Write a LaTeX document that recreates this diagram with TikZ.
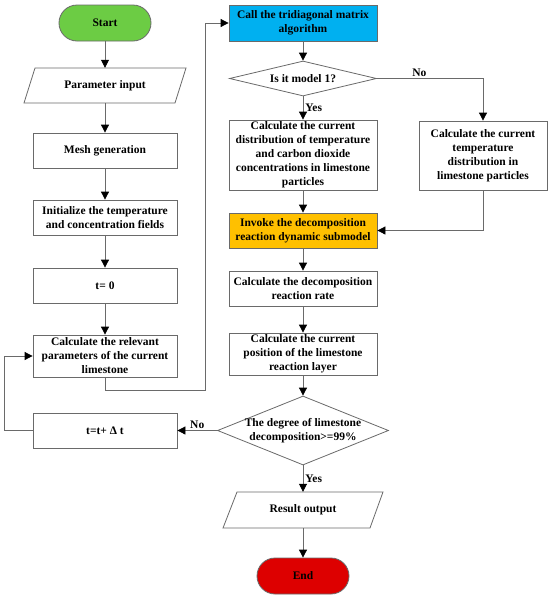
\documentclass[tikz,border=0pt]{standalone}
\usepackage{fontspec}
\setmainfont{Liberation Serif}
\usetikzlibrary{arrows.meta,shapes.geometric}
\definecolor{lc}{HTML}{6A6A6A}
\definecolor{startgreen}{HTML}{6CCC44}
\definecolor{endred}{HTML}{DD0000}
\definecolor{triblue}{HTML}{00B0F0}
\definecolor{invokeor}{HTML}{FFC000}
\begin{document}
\begin{tikzpicture}[x=1pt,y=-1pt,
 base/.style={font=\bfseries\fontsize{11.5}{14}\selectfont, align=center, inner sep=0pt, text=black},
 box/.style={base, draw=lc, line width=0.8pt, fill=white},
 term/.style={base, draw=lc, line width=0.8pt, rounded corners=18pt, minimum width=92pt, minimum height=36pt},
 dmd/.style={diamond, draw=lc, line width=0.8pt, inner sep=0pt, fill=white},
 ln/.style={draw=lc, line width=0.8pt},
 arr/.style={draw=lc, line width=0.8pt, -{Triangle[length=8pt,width=8pt,color=black]}},
 lbl/.style={font=\bfseries\fontsize{11.5}{14}\selectfont, inner sep=2pt, text=black}
]
\useasboundingbox[fill=white] (0,0) rectangle (550,598);

% left column
\node[term, fill=startgreen] (start) at (105,23) {Start};
\draw[ln] (35,68) -- (186,68) -- (175,103) -- (24,103) -- cycle;
\node[base, minimum width=140pt, minimum height=35pt] (param) at (105,85.5) {Parameter input};
\node[box, minimum width=144pt, minimum height=35pt] (mesh) at (105,150.5) {Mesh generation};
\node[box, minimum width=144pt, minimum height=35pt] (init) at (105,217.5) {Initialize the temperature\\and concentration fields};
\node[box, minimum width=144pt, minimum height=35pt] (t0) at (105,285.5) {t= 0};
\node[box, minimum width=144pt, minimum height=42pt] (calcrel) at (105,356) {Calculate the relevant\\parameters of the current\\limestone};
\node[box, minimum width=144pt, minimum height=35pt] (tinc) at (105,430.5) {t=t+ Δ t};

% right column
\node[box, fill=triblue, minimum width=148pt, minimum height=36pt] (tri) at (303,23) {Call the tridiagonal matrix\\algorithm};
\node[dmd, minimum width=147pt, minimum height=35pt] (dia1) at (303,78.5) {};
\node[base] at (dia1) {Is it model 1?};
\node[box, minimum width=148pt, minimum height=70pt] (calcL) at (303,155) {Calculate the current\\distribution of temperature\\and carbon dioxide\\concentrations in limestone\\particles};
\node[box, minimum width=128pt, minimum height=69pt] (calcR) at (483,155.5) {Calculate the current\\temperature\\distribution in\\limestone particles};
\node[box, fill=invokeor, minimum width=148pt, minimum height=35pt] (invoke) at (303,230.5) {Invoke the decomposition\\reaction dynamic submodel};
\node[box, minimum width=148pt, minimum height=35pt] (rate) at (303,288.5) {Calculate the decomposition\\reaction rate};
\node[box, minimum width=148pt, minimum height=42pt] (pos) at (303,354) {Calculate the current\\position of the limestone\\reaction layer};
\node[dmd, minimum width=171pt, minimum height=69pt] (dia2) at (303,430.5) {};
\node[base] at (dia2) {The degree of limestone\\decomposition>=99\%};
\draw[ln] (237,492) -- (383,492) -- (370,528) -- (223,528) -- cycle;
\node[base, minimum width=140pt, minimum height=36pt] (result) at (303,510) {Result output};
\node[term, fill=endred] (end) at (303,576) {End};

\coordinate (c1) at (205,390);
\coordinate (lp) at (4,430.5);

% connectors
\draw[arr] (start) -- (param);
\draw[arr] (param) -- (mesh);
\draw[arr] (mesh) -- (init);
\draw[arr] (init) -- (t0);
\draw[arr] (t0) -- (calcrel);
\draw[arr] (calcrel.south) |- (c1) |- (tri.west);
\draw[arr] (tri) -- (dia1);
\draw[arr] (dia1) -- node[lbl, right, pos=0.5] {Yes} (calcL);
\draw[arr] (dia1.east) -| node[lbl, above, pos=0.2, inner sep=1pt] {No} (calcR.north);
\draw[arr] (calcL) -- (invoke);
\draw[arr] (calcR.south) |- (invoke.east);
\draw[arr] (invoke) -- (rate);
\draw[arr] (rate) -- (pos);
\draw[arr] (pos) -- (dia2);
\draw[arr] (dia2.west) -- node[lbl, above, inner sep=1pt] {No} (tinc.east);
\draw[arr] (dia2) -- node[lbl, right] {Yes} (result);
\draw[arr] (result) -- (end);
\draw[arr] (tinc.west) -- (lp) |- (calcrel.west);
\end{tikzpicture}
\end{document}
